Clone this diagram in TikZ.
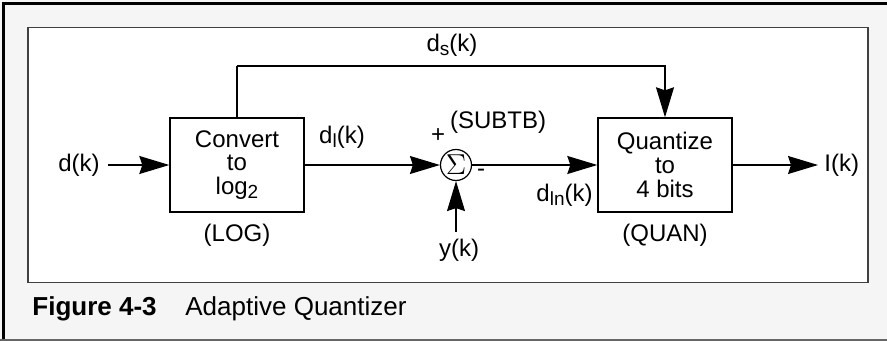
\documentclass[tikz,border=0pt]{standalone}
\usepackage{fontspec}
\setmainfont{Liberation Sans}
\usepackage{tikz}
\usepackage{xcolor}
\usetikzlibrary{arrows.meta,positioning}

\newcommand{\lowsub}[1]{\raisebox{-0.35ex}{\fontsize{9.5}{10}\selectfont #1}}

\begin{document}
\begin{tikzpicture}[x=0.5pt,y=-0.5pt,
  font=\fontsize{12}{11.8}\selectfont,
  blk/.style={rectangle, draw, line width=0.7pt, minimum width=67pt, minimum height=47pt, align=center, inner sep=0pt},
  sig/.style={circle, draw, line width=0.6pt, minimum size=15.5pt, inner sep=0pt, font=\fontsize{15}{15}\selectfont},
  lbl/.style={inner sep=0pt},
  wire/.style={line width=0.6pt},
  arr/.style={wire, -{Stealth[length=15pt,width=9pt,inset=1.5pt]}}]
\useasboundingbox (0,0) rectangle (887,341);
\fill[black!4] (0,0) rectangle (887,341);
\draw[line width=1.4pt] (3.5,341) -- (3.5,3.5) -- (887,3.5);
\draw[black!60, line width=0.6pt] (0,340) -- (887,340);
\draw[black!75, line width=0.8pt, fill=white] (28,27.5) rectangle (868,282.5);

\node[blk] (log) at (237,165) {Convert\\to\\log\lowsub{2}};
\node[blk] (quan) at (665,165) {Quantize\\to\\4 bits};
\node[sig] (sum) at (456,165) {$\Sigma$};

\node[lbl] (dk) at (79,165) {d(k)};
\node[lbl] (dlk) at (342,137) {d\lowsub{l}(k)};
\node[lbl] (plus) at (438,136) {+};
\node[lbl] (minus) at (481,173) {-};
\node[lbl] (subtb) at (498,122) {(SUBTB)};
\node[lbl] (yk) at (459,250) {y(k)};
\node[lbl, anchor=east] (dlnk) at (593,195) {d\lowsub{ln}(k)};
\node[lbl, anchor=west] (ik) at (824,165) {I(k)};
\node[lbl] (dsk) at (452,45) {d\lowsub{s}(k)};
\node[lbl] (logname) at (237,235) {(LOG)};
\node[lbl] (quanname) at (665,235) {(QUAN)};

\coordinate (top) at (237,66);
\coordinate (ystart) at (456,232);

\draw[arr, shorten <=4pt] (dk.east) -- (log.west);
\draw[arr] (log.east) -- (sum.west);
\draw[arr] (sum.east) -- (quan.west);
\draw[arr] (ystart) -- (sum.south);
\draw[arr, shorten >=3pt] (quan.east) -- (ik.west);
\draw[wire] (log.north) -- (top);
\draw[arr] (top) -| (quan.north);

\node[lbl, anchor=west, font=\fontsize{13}{15}\selectfont\bfseries] (fignum) at (32,309) {Figure 4-3};
\node[lbl, anchor=west, font=\fontsize{13}{15}\selectfont] (figtitle) at (185,309) {Adaptive Quantizer};
\end{tikzpicture}
\end{document}
